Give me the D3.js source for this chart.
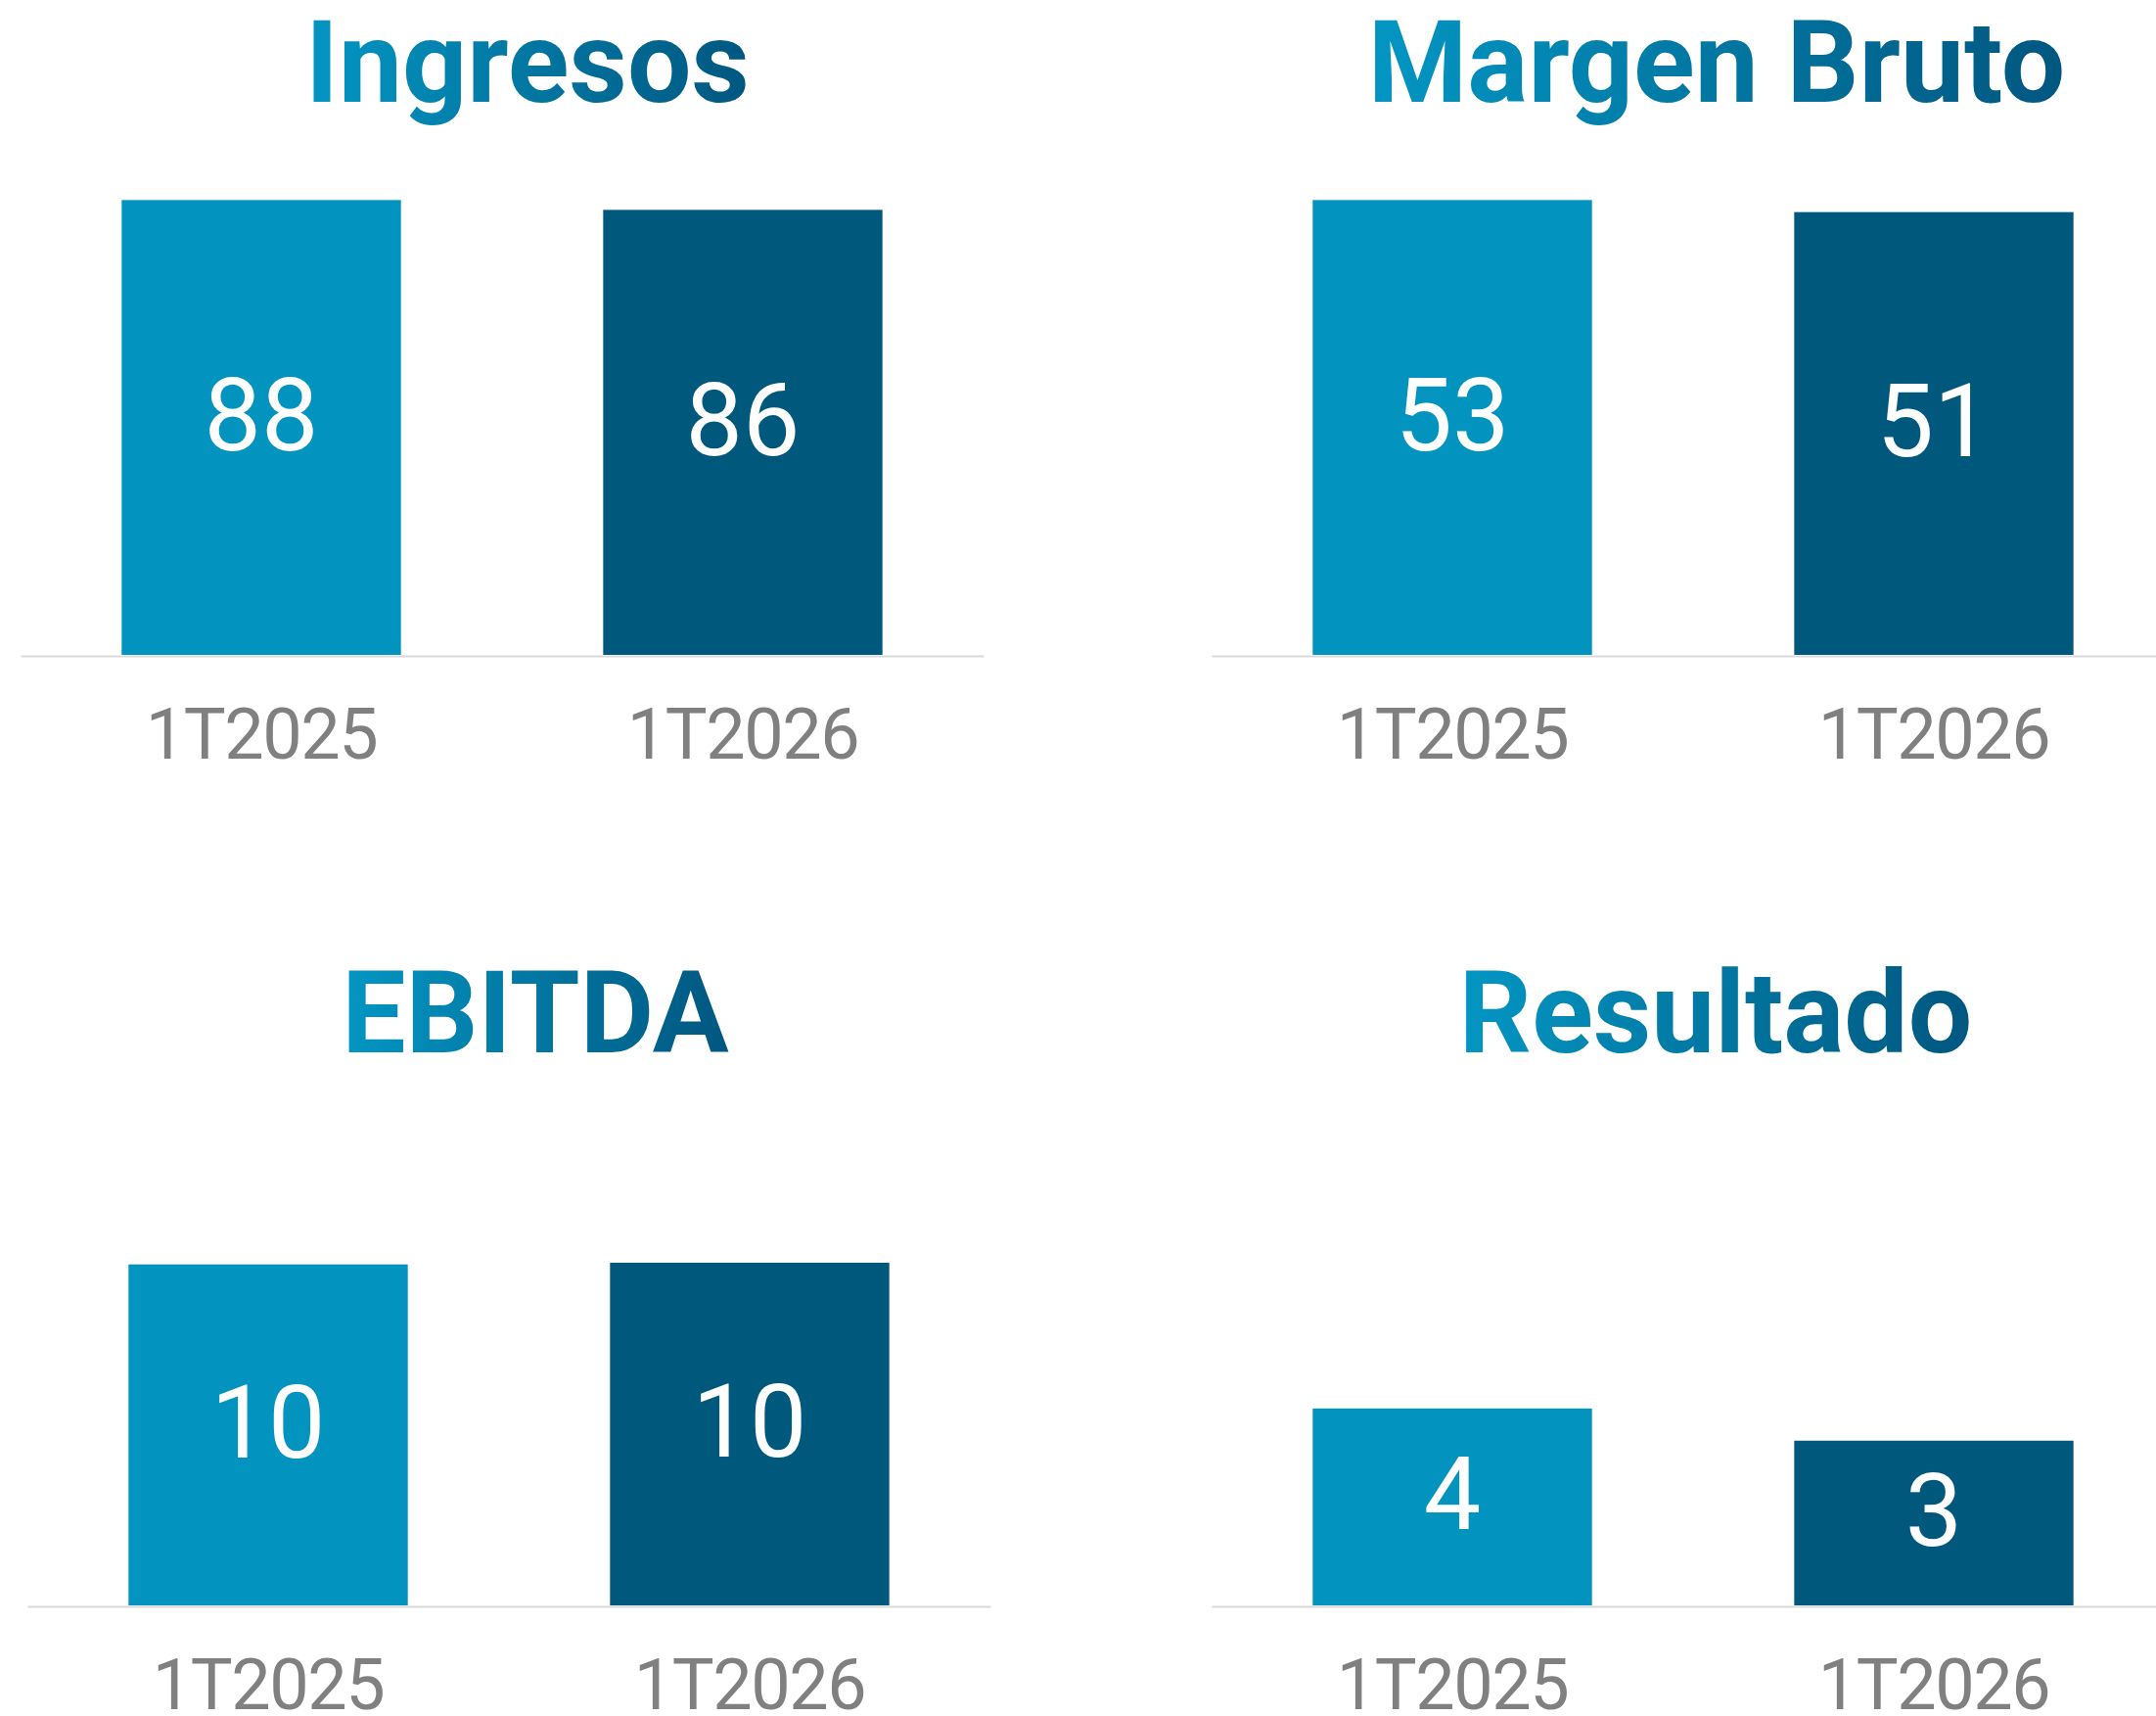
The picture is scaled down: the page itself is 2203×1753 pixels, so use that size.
<!DOCTYPE html>
<html>
<head>
<meta charset="utf-8">
<script src="https://cdn.jsdelivr.net/npm/d3@7"></script>
<style>
  body { margin: 0; background: #fff; }
  svg { display: block; }
</style>
</head>
<body>
<div id="chart"></div>
<script>
const width = 2203;
const height = 1753;

// data
const periods = ["1T2025", "1T2026"];
const titles = ["Ingresos", "Margen Bruto", "EBITDA", "Resultado"];
const ingresos = [88.0, 86.1];
const margenBruto = [52.8, 51.4];
const ebitda = [10.0, 10.05];
const resultado = [3.85, 3.22];
const yMaxes = [100, 60, 12, 8];

const series = [ingresos, margenBruto, ebitda, resultado];

// panel layout: plot left, baseline, plot height, title position
const panels = [
  {x0: 21,   base: 669,  h: 528, titleX: 539,  titleY: 104},
  {x0: 1238, base: 669,  h: 528, titleX: 1754, titleY: 104},
  {x0: 28,   base: 1640, h: 418, titleX: 547,  titleY: 1075},
  {x0: 1238, base: 1640, h: 418, titleX: 1753, titleY: 1075}
];
const plotW = 984;

const color = d3.scaleOrdinal()
  .domain(periods)
  .range(["#0393BF", "#00587D"]);

const fmt = d3.format(".0f");

const svg = d3.select("#chart").append("svg")
  .attr("width", width)
  .attr("height", height);

const defs = svg.append("defs");
const grad = defs.append("linearGradient")
  .attr("id", "titleGrad")
  .attr("x1", "0%").attr("x2", "100%")
  .attr("y1", "0%").attr("y2", "0%");
grad.append("stop").attr("offset", "0%").attr("stop-color", "#0396C3");
grad.append("stop").attr("offset", "100%").attr("stop-color", "#005780");

panels.forEach(function(p, i) {
  const data = periods.map(function(d, j) { return {period: d, value: series[i][j]}; });

  const g = svg.append("g");

  const x = d3.scaleBand()
    .domain(periods)
    .range([p.x0, p.x0 + plotW])
    .paddingInner(0.42)
    .paddingOuter(0.21);

  const y = d3.scaleLinear()
    .domain([0, yMaxes[i]])
    .range([p.base, p.base - p.h]);

  g.selectAll("rect.bar")
    .data(data)
    .join("rect")
    .attr("class", "bar")
    .attr("x", function(d) { return x(d.period); })
    .attr("width", x.bandwidth())
    .attr("y", function(d) { return y(d.value); })
    .attr("height", function(d) { return p.base - y(d.value); })
    .attr("fill", function(d) { return color(d.period); });

  const axis = g.append("g")
    .attr("transform", "translate(0," + (p.base + 1) + ")")
    .call(d3.axisBottom(x).tickSize(0).tickSizeOuter(0));
  axis.select(".domain")
    .attr("stroke", "#D9D9D9")
    .attr("stroke-width", 2);
  axis.selectAll("text")
    .attr("y", 105)
    .attr("dy", 0)
    .style("font-family", "Roboto, 'Noto Sans', sans-serif")
    .style("font-size", "72px")
    .style("letter-spacing", "-1.5px")
    .style("fill", "#808080");

  g.selectAll("text.val")
    .data(data)
    .join("text")
    .attr("class", "val")
    .attr("x", function(d) { return x(d.period) + x.bandwidth() / 2; })
    .attr("y", function(d) { return (y(d.value) + p.base) / 2 + 23; })
    .attr("text-anchor", "middle")
    .style("font-family", "Roboto, 'Noto Sans', sans-serif")
    .style("font-size", "104px")
    .style("fill", "#fff")
    .text(function(d) { return fmt(d.value); });

  g.append("text")
    .attr("class", "title")
    .attr("x", p.titleX)
    .attr("y", p.titleY)
    .attr("text-anchor", "middle")
    .style("font-family", "Roboto, 'Noto Sans', sans-serif")
    .style("font-weight", "700")
    .style("font-size", "116px")
    .attr("fill", "url(#titleGrad)")
    .text(titles[i]);
});
</script>
</body>
</html>
